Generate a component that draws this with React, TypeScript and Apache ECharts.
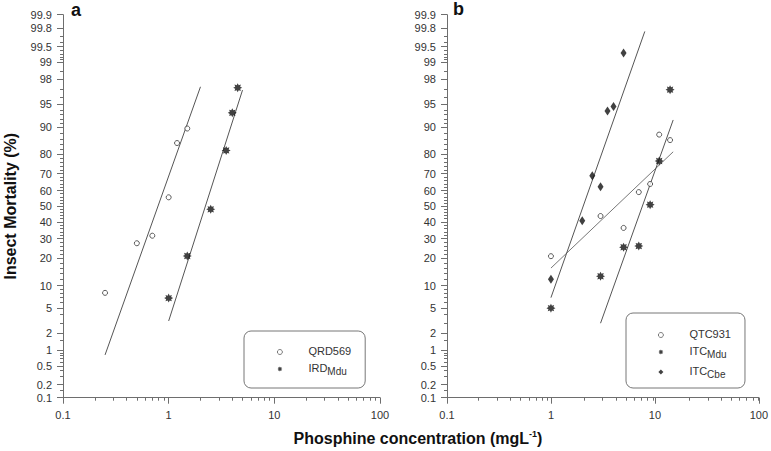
import React, { useEffect, useRef } from "react";
import * as echarts from "echarts";

// ---- tick values ----
const yMajorTicks = [0.1, 0.2, 0.5, 1, 2, 5, 10, 20, 30, 40, 50, 60, 70, 80, 90, 95, 98, 99, 99.5, 99.8, 99.9];
const yMinorTicks = [
  0.15, 0.3, 0.4, 0.6, 0.7, 0.8, 0.9, 1.5, 3, 4, 6, 7, 8, 9, 12, 14, 16, 18, 22, 24, 26, 28, 32, 34, 36, 38,
  42, 44, 46, 48, 52, 54, 56, 58, 62, 64, 66, 68, 72, 74, 76, 78, 82, 84, 86, 88, 91, 92, 93, 94, 96, 97,
  98.5, 99.1, 99.2, 99.3, 99.4, 99.6, 99.7,
];
const xMajorTicks = [0.1, 1, 10, 100];
const xMinorTicks = [0.2, 0.3, 0.4, 0.5, 0.6, 0.7, 0.8, 0.9, 2, 3, 4, 5, 6, 7, 8, 9, 20, 30, 40, 50, 60, 70, 80, 90];

// ---- panel a data ----
const qrdConc = [0.25, 0.5, 0.7, 1, 1.2, 1.5];
const qrdMort = [8.1, 27.5, 31.7, 55.7, 84.6, 89.5];
const irdConc = [1, 1.5, 2.5, 3.5, 4, 4.5];
const irdMort = [6.9, 21.1, 48, 81.6, 93.4, 97.2];
const qrdFitConc = [0.25, 2];
const qrdFitMort = [0.82, 97.3];
const irdFitConc = [1, 5];
const irdFitMort = [3.2, 96.95];

// ---- panel b data ----
const qtcConc = [1, 3, 5, 7, 9, 11, 14];
const qtcMort = [21, 43.7, 36.3, 59, 64, 87.6, 85.7];
const mduConc = [1, 3, 5, 7, 9, 11, 14];
const mduMort = [5, 12.9, 25.4, 26, 51, 76.7, 97];
const cbeConc = [1, 2, 2.5, 3, 3.5, 4, 5];
const cbeMort = [11.9, 40.7, 68.9, 62.3, 93.8, 94.6, 99.33];
const qtcFitConc = [1, 15];
const qtcFitMort = [15.9, 81];
const mduFitConc = [3, 15];
const mduFitMort = [2.95, 91.8];
const cbeFitConc = [1, 8];
const cbeFitMort = [7.0, 99.76];

// inverse standard normal CDF (probit scale)
function probit(pct: number): number {
  const p = pct / 100;
  const a = [-3.969683028665376e1, 2.209460984245205e2, -2.759285104469687e2, 1.38357751867269e2, -3.066479806614716e1, 2.506628277459239];
  const b = [-5.447609879822406e1, 1.615858368580409e2, -1.556989798598866e2, 6.680131188771972e1, -1.328068155288572e1];
  const c = [-7.784894002430293e-3, -3.223964580411365e-1, -2.400758277161838, -2.549732539343734, 4.374664141464968, 2.938163982698783];
  const d = [7.784695709041462e-3, 3.224671290700398e-1, 2.445134137142996, 3.754408661907416];
  const pl = 0.02425;
  if (p < pl) {
    const q = Math.sqrt(-2 * Math.log(p));
    return (((((c[0] * q + c[1]) * q + c[2]) * q + c[3]) * q + c[4]) * q + c[5]) / ((((d[0] * q + d[1]) * q + d[2]) * q + d[3]) * q + 1);
  }
  if (p > 1 - pl) {
    const q = Math.sqrt(-2 * Math.log(1 - p));
    return -(((((c[0] * q + c[1]) * q + c[2]) * q + c[3]) * q + c[4]) * q + c[5]) / ((((d[0] * q + d[1]) * q + d[2]) * q + d[3]) * q + 1);
  }
  const q = p - 0.5;
  const r = q * q;
  return ((((((a[0] * r + a[1]) * r + a[2]) * r + a[3]) * r + a[4]) * r + a[5]) * q) / (((((b[0] * r + b[1]) * r + b[2]) * r + b[3]) * r + b[4]) * r + 1);
}

const pairs = (xs: number[], ys: number[]) => xs.map((x, i) => [x, probit(ys[i])]);

function starPath(): string {
  const pts: string[] = [];
  for (let k = 0; k < 16; k++) {
    const ang = -Math.PI / 2 + (k * Math.PI) / 8;
    const r = k % 2 === 0 ? 10 : 6;
    pts.push(`${(10 + r * Math.cos(ang)).toFixed(2)} ${(10 + r * Math.sin(ang)).toFixed(2)}`);
  }
  return "path://M" + pts.join(" L") + " Z";
}
const STAR = starPath();

const AXIS_COLOR = "#6e6e6e";
const LABEL_COLOR = "#333";
const FONT = "Liberation Sans, Arial, sans-serif";

export default function App() {
  const ref = useRef<HTMLDivElement>(null);
  useEffect(() => {
    if (!ref.current) return;
    const chart = echarts.init(ref.current, undefined, { renderer: "svg" });
    const yMin = probit(0.1);
    const yMax = probit(99.9);
    const yLabel = (v: number) => {
      let best = yMajorTicks[0];
      let bd = Infinity;
      for (const t of yMajorTicks) {
        const dd = Math.abs(probit(t) - v);
        if (dd < bd) { bd = dd; best = t; }
      }
      return String(best);
    };
    const panelRects = [
      { left: 63, top: 14.7, width: 317, height: 383 },
      { left: 447, top: 14.7, width: 316, height: 383 },
    ];
    // grids 0,1: main panels; grids 2,3: same rectangles, carrying the minor-tick axes
    const grids = [...panelRects, ...panelRects];
    const xAxes: any[] = [];
    const yAxes: any[] = [];
    [0, 1].forEach((g) => {
      xAxes.push({
        type: "log", logBase: 10, gridIndex: g, min: 0.1, max: 100, position: "bottom",
        axisLine: { onZero: false, lineStyle: { color: AXIS_COLOR, width: 1 } },
        axisTick: { show: true, inside: false, length: 6, customValues: xMajorTicks, lineStyle: { color: AXIS_COLOR, width: 1 } },
        axisLabel: { customValues: xMajorTicks, margin: 12, color: LABEL_COLOR, fontSize: 11, fontFamily: FONT,
          formatter: (v: number) => String(+Number(v).toPrecision(3)) },
        splitLine: { show: false }, minorTick: { show: false },
      });
      yAxes.push({
        type: "value", gridIndex: g, min: yMin, max: yMax, position: "left",
        name: g === 0 ? "Insect Mortality (%)" : "",
        nameLocation: "middle", nameGap: 45, nameRotate: 90,
        nameTextStyle: { fontSize: 16, fontWeight: "bold", color: "#111", fontFamily: FONT },
        axisLine: { show: true, onZero: false, lineStyle: { color: AXIS_COLOR, width: 1 } },
        axisTick: { show: true, length: 6, customValues: yMajorTicks.map(probit), lineStyle: { color: AXIS_COLOR, width: 1 } },
        axisLabel: { customValues: yMajorTicks.map(probit), margin: 11, color: LABEL_COLOR, fontSize: 11, fontFamily: FONT, formatter: yLabel },
        splitLine: { show: false },
      });
    });
    [2, 3].forEach((g) => {
      xAxes.push({
        type: "log", logBase: 10, gridIndex: g, min: 0.1, max: 100, position: "bottom",
        axisLine: { show: false, onZero: false },
        axisTick: { show: true, length: 3, customValues: xMinorTicks, lineStyle: { color: AXIS_COLOR, width: 1 } },
        axisLabel: { show: false }, splitLine: { show: false },
      });
      yAxes.push({
        type: "value", gridIndex: g, min: yMin, max: yMax, position: "left",
        axisLine: { show: false, onZero: false },
        axisTick: { show: true, length: 3, customValues: yMinorTicks.map(probit), lineStyle: { color: AXIS_COLOR, width: 1 } },
        axisLabel: { show: false }, splitLine: { show: false },
      });
    });

    const openCircle = { symbol: "circle", symbolSize: 5, itemStyle: { color: "#fff", borderColor: "#333", borderWidth: 1 } };
    const star = { symbol: STAR, symbolSize: 9, itemStyle: { color: "#111" } };
    const diamond = { symbol: "diamond", symbolSize: [6, 9], itemStyle: { color: "#111" } };
    const fit = (name: string, xs: number[], ys: number[], gi: number, color = "#555") => ({
      name, type: "line", xAxisIndex: gi, yAxisIndex: gi, data: pairs(xs, ys), symbol: "none",
      lineStyle: { color, width: 1 }, z: 1, silent: true,
    });
    const sc = (name: string, xs: number[], ys: number[], gi: number, sym: any) => ({
      name, type: "scatter", xAxisIndex: gi, yAxisIndex: gi, data: pairs(xs, ys), z: 3, ...sym,
    });

    const legendFormatter = (name: string) => {
      const i = name.indexOf("_");
      if (i < 0) return `{m|${name}}`;
      return `{m|${name.slice(0, i)}}{s|${name.slice(i + 1)}}`;
    };
    const legendRich = {
      m: { fontSize: 11, lineHeight: 14, color: LABEL_COLOR, fontFamily: FONT, verticalAlign: "top" },
      s: { fontSize: 10, lineHeight: 6, verticalAlign: "bottom", color: LABEL_COLOR, fontFamily: FONT },
    };
    const legendBase = {
      orient: "vertical", itemGap: 6, itemWidth: 5, itemHeight: 5, borderColor: "#777", borderWidth: 1,
      borderRadius: 7, formatter: legendFormatter, selectedMode: false,
      textStyle: { fontSize: 11, color: LABEL_COLOR, padding: [0, 0, 0, 21], rich: legendRich },
    };
    const thinCircle = { itemStyle: { borderWidth: 0.8 } };

    chart.setOption({
      animation: false,
      backgroundColor: "#fff",
      grid: grids,
      xAxis: xAxes,
      yAxis: yAxes,
      legend: [
        { ...legendBase, data: [{ name: "QRD569", ...thinCircle }, { name: "IRD_Mdu" }], left: 244, top: 331, padding: [14, 14, 12, 33] },
        { ...legendBase, data: [{ name: "QTC931", ...thinCircle }, { name: "ITC_Mdu" }, { name: "ITC_Cbe" }], left: 626, top: 313, padding: [15, 14, 9, 32] },
      ],
      graphic: [
        { type: "text", left: 71, top: 1, style: { text: "a", fontSize: 18, fontWeight: "bold", fill: "#111", fontFamily: FONT } },
        { type: "text", left: 453, top: 0, style: { text: "b", fontSize: 18, fontWeight: "bold", fill: "#111", fontFamily: FONT } },
        {
          type: "text", x: 418, y: 438,
          style: {
            text: "{t|Phosphine concentration (mgL}{u|-1}{t|)}", align: "center", verticalAlign: "middle",
            rich: {
              t: { fontSize: 16, fontWeight: "bold", fill: "#111", fontFamily: FONT, lineHeight: 18 },
              u: { fontSize: 9, fontWeight: "bold", fill: "#111", fontFamily: FONT, lineHeight: 8, verticalAlign: "top" },
            },
          },
        },
      ],
      series: [
        fit("QRD569 fit", qrdFitConc, qrdFitMort, 0),
        fit("IRD fit", irdFitConc, irdFitMort, 0),
        sc("QRD569", qrdConc, qrdMort, 0, openCircle),
        sc("IRD_Mdu", irdConc, irdMort, 0, star),
        fit("QTC931 fit", qtcFitConc, qtcFitMort, 1, "#777"),
        fit("Mdu fit", mduFitConc, mduFitMort, 1),
        fit("Cbe fit", cbeFitConc, cbeFitMort, 1),
        sc("QTC931", qtcConc, qtcMort, 1, openCircle),
        sc("ITC_Mdu", mduConc, mduMort, 1, star),
        sc("ITC_Cbe", cbeConc, cbeMort, 1, diamond),
      ],
    });
    return () => chart.dispose();
  }, []);
  return <div ref={ref} style={{ position: "fixed", left: 0, top: 0, width: 771, height: 451 }} />;
}
